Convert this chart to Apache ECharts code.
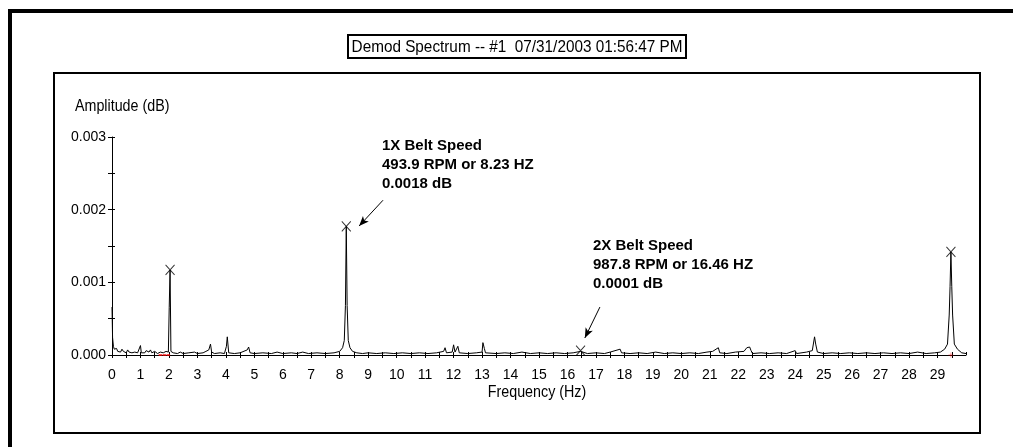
<!DOCTYPE html>
<html><head><meta charset="utf-8">
<script src="https://cdn.jsdelivr.net/npm/echarts@6/dist/echarts.min.js"></script>
<style>html,body{margin:0;padding:0;background:#fff}#c{width:1013px;height:447px}</style>
</head><body><div id="c"></div>
<script>
// ---- data ----
const freqHz = [
  0.00,0.02,0.05,0.08,0.12,0.16,0.20,0.25,0.30,0.35,0.40,0.45,0.50,0.55,0.60,0.65,0.70,0.75,0.80,0.85,0.90,0.95,
  1.00,1.03,1.10,1.15,1.20,1.30,1.35,1.40,1.50,1.60,1.70,1.80,1.90,1.98,2.01,2.04,2.07,2.15,2.30,2.40,2.50,2.70,2.90,
  3.00,3.20,3.30,3.40,3.46,3.50,3.60,3.80,3.95,4.02,4.05,4.10,4.30,4.50,4.75,4.80,4.85,5.00,5.30,5.60,5.80,
  6.00,6.30,6.50,6.70,6.90,7.20,7.50,7.80,8.00,8.10,8.16,8.20,8.23,8.26,8.30,8.36,8.45,8.60,8.80,
  9.00,9.30,9.60,9.90,10.20,10.50,10.80,11.10,11.40,11.65,11.70,11.75,11.95,12.00,12.05,12.15,12.20,12.50,12.80,
  13.00,13.03,13.08,13.12,13.50,13.80,14.10,14.40,14.70,15.00,15.30,15.60,15.90,16.20,16.46,16.70,
  17.00,17.30,17.50,17.85,17.90,18.20,18.50,18.80,19.10,19.40,19.70,20.00,20.30,20.60,20.90,21.10,21.30,21.35,21.60,21.90,
  22.20,22.30,22.40,22.45,22.50,22.80,23.10,23.40,23.70,24.00,24.05,24.40,24.60,24.68,24.72,24.78,
  25.00,25.30,25.60,25.90,26.20,26.50,26.80,27.10,27.40,27.70,28.00,28.30,28.60,28.90,29.10,29.25,29.35,29.41,29.44,
  29.47,29.50,29.53,29.59,29.70,29.85,30.00
];
const ampDb = [
  0.00066,0.00024,0.00012,0.00008,0.00006,0.00009,0.00005,0.00007,0.00004,0.00008,0.00005,0.00006,0.00003,0.00007,0.00004,0.00006,0.00003,0.00005,0.00004,0.00006,0.00003,0.00005,
  0.00013,0.00003,0.00005,0.00003,0.00006,0.00004,0.00007,0.00003,0.00005,0.00002,0.00004,0.00003,0.00005,0.00004,0.00065,0.00117,0.00005,0.00003,0.00002,0.00004,0.00002,0.00003,0.00004,
  0.00002,0.00003,0.00005,0.00007,0.00015,0.00004,0.00002,0.00003,0.00002,0.00012,0.00025,0.00003,0.00002,0.00003,0.00007,0.00011,0.00003,0.00002,0.00003,0.00002,0.00004,
  0.00002,0.00003,0.00002,0.00004,0.00002,0.00003,0.00002,0.00003,0.00005,0.00010,0.00020,0.00068,0.00177,0.00068,0.00020,0.00010,0.00005,0.00003,0.00002,
  0.00003,0.00002,0.00003,0.00002,0.00003,0.00002,0.00003,0.00002,0.00003,0.00005,0.00010,0.00003,0.00004,0.00014,0.00004,0.00012,0.00003,0.00002,0.00003,
  0.00004,0.00017,0.00009,0.00003,0.00002,0.00003,0.00002,0.00004,0.00002,0.00003,0.00002,0.00003,0.00002,0.00003,0.00005,0.00002,
  0.00003,0.00002,0.00004,0.00008,0.00003,0.00002,0.00003,0.00002,0.00004,0.00002,0.00003,0.00002,0.00003,0.00002,0.00004,0.00005,0.00010,0.00003,0.00002,0.00004,
  0.00005,0.00010,0.00011,0.00006,0.00002,0.00003,0.00002,0.00003,0.00002,0.00006,0.00002,0.00004,0.00006,0.00025,0.00015,0.00004,
  0.00002,0.00003,0.00002,0.00003,0.00002,0.00003,0.00002,0.00003,0.00002,0.00003,0.00002,0.00004,0.00002,0.00003,0.00004,0.00008,0.00015,0.00055,0.00094,
  0.00142,0.00094,0.00055,0.00015,0.00008,0.00003,0.00002
];
const peakFreqHz = [2.04, 8.23, 16.46, 29.47];
const peakAmpDb  = [0.00117, 0.00177, 0.00006, 0.00142];
const redFreqHz  = [1.70, 1.84, 1.98, 29.47];
const redAmpDb   = [0, 0, 0, 0];
const titleText = 'Demod Spectrum -- #1  07/31/2003 01:56:47 PM';
const yAxisName = 'Amplitude (dB)';
const xAxisName = 'Frequency (Hz)';
const note1 = ['1X Belt Speed', '493.9 RPM or 8.23 HZ', '0.0018 dB'];
const note2 = ['2X Belt Speed', '987.8 RPM or 16.46 HZ', '0.0001 dB'];
const arrow1 = [[9.52, 0.00213], [8.68, 0.001775]];
const arrow2 = [[17.14, 0.00066], [16.61, 0.000234]];
const xMin = 0, xMax = 30, xStep = 0.5;
const yMin = 0, yMax = 0.003, yStep = 0.0005;

// ---- chart ----
const FONT = "'Liberation Sans', Arial, sans-serif";
const chart = echarts.init(document.getElementById('c'), null, {renderer: 'canvas'});
const G = {left: 112, top: 137, right: 47, bottom: 92};
const lineData = freqHz.map((f, i) => [f, ampDb[i]]);
const peakData = peakFreqHz.map((f, i) => [f, peakAmpDb[i]]);
const redData = redFreqHz.map((f, i) => [f, redAmpDb[i]]);
const xPath = 'path://M0,0L10,10M10,0L0,10';
const plusPath = 'path://M5,0L5,10M0,5L10,5';

const xFmt = v => (Math.abs(v - Math.round(v)) < 1e-6 && v < xMax) ? String(Math.round(v)) : '';
const yFmt = v => { const k = Math.round(v / 0.001 * 2); return k % 2 === 0 ? v.toFixed(3) : ''; };

const baseX = {type: 'value', min: xMin, max: xMax, interval: xStep, splitLine: {show: false}};
const baseY = {type: 'value', min: yMin, max: yMax, interval: yStep, splitLine: {show: false}};

chart.setOption({
  animation: false,
  backgroundColor: '#fff',
  grid: G,
  xAxis: [
    Object.assign({}, baseX, {
      position: 'bottom',
      axisLine: {show: true, onZero: false, lineStyle: {color: '#000', width: 1}},
      axisTick: {show: true, length: 3, lineStyle: {color: '#000'}},
      axisLabel: {show: true, formatter: xFmt, color: '#000', fontFamily: FONT, fontSize: 14, margin: 13,
                  showMaxLabel: false, hideOverlap: false}
    }),
    Object.assign({}, baseX, {
      position: 'bottom',
      axisLine: {show: false, onZero: false}, axisTick: {show: true, inside: true, length: 3, lineStyle: {color: '#000'}},
      axisLabel: {show: false}
    })
  ],
  yAxis: [
    Object.assign({}, baseY, {
      position: 'left',
      axisLine: {show: true, onZero: false, lineStyle: {color: '#000', width: 1}},
      axisTick: {show: true, length: 4, lineStyle: {color: '#000'}},
      axisLabel: {show: true, formatter: yFmt, color: '#000', fontFamily: FONT, fontSize: 14, margin: 6,
                  showMaxLabel: true, showMinLabel: true}
    }),
    Object.assign({}, baseY, {
      position: 'left',
      axisLine: {show: false, onZero: false}, axisTick: {show: true, inside: true, length: 3, lineStyle: {color: '#000'}},
      axisLabel: {show: false}
    })
  ],
  series: [
    {
      type: 'line', data: lineData, xAxisIndex: 0, yAxisIndex: 0,
      showSymbol: false, symbol: 'none', lineStyle: {color: '#000', width: 1}, z: 3,
      markLine: {
        silent: true, symbol: ['none', 'arrow'], symbolSize: [6, 10], animation: false,
        lineStyle: {color: '#000', width: 1, type: 'solid'}, label: {show: false},
        data: [
          [{coord: arrow1[0]}, {coord: arrow1[1]}],
          [{coord: arrow2[0]}, {coord: arrow2[1]}]
        ]
      }
    },
    {
      type: 'scatter', data: peakData, symbol: xPath, symbolSize: [9, 10],
      itemStyle: {color: 'rgba(0,0,0,0)', borderColor: '#000', borderWidth: 1}, z: 4
    },
    {
      type: 'scatter', data: redData,
      symbol: v => (v[0] > 29 ? plusPath : 'rect'),
      symbolSize: v => (v[0] > 29 ? [5, 5] : [3, 1]),
      itemStyle: {color: '#ff0000', borderColor: '#ff0000', borderWidth: 0.5}, z: 5
    }
  ],
  graphic: [
    {type: 'rect', shape: {x: 10, y: 11, width: 1100, height: 1000}, style: {fill: 'none', stroke: '#000', lineWidth: 4}, z: 0},
    {type: 'rect', shape: {x: 54, y: 73, width: 926, height: 360}, style: {fill: 'none', stroke: '#000', lineWidth: 2}, z: 0},
    {type: 'rect', shape: {x: 348, y: 35, width: 338, height: 23}, style: {fill: '#fff', stroke: '#000', lineWidth: 2}, z: 0},
    {type: 'text', x: 517, y: 47, scaleX: 0.9, style: {text: titleText, font: '17px ' + FONT, fill: '#000', textAlign: 'center', textVerticalAlign: 'middle'}},
    {type: 'text', x: 75, y: 106, scaleX: 0.84, style: {text: yAxisName, font: '17px ' + FONT, fill: '#000', textAlign: 'left', textVerticalAlign: 'middle'}},
    {type: 'text', x: 537, y: 392, scaleX: 0.84, style: {text: xAxisName, font: '17px ' + FONT, fill: '#000', textAlign: 'center', textVerticalAlign: 'middle'}},
    {type: 'text', x: 382, y: 136, style: {text: note1.join('\n'), font: 'bold 15px ' + FONT, lineHeight: 19, fill: '#000', textAlign: 'left', textVerticalAlign: 'top'}},
    {type: 'text', x: 593, y: 236, style: {text: note2.join('\n'), font: 'bold 15px ' + FONT, lineHeight: 19, fill: '#000', textAlign: 'left', textVerticalAlign: 'top'}}
  ]
});
</script>
</body></html>
